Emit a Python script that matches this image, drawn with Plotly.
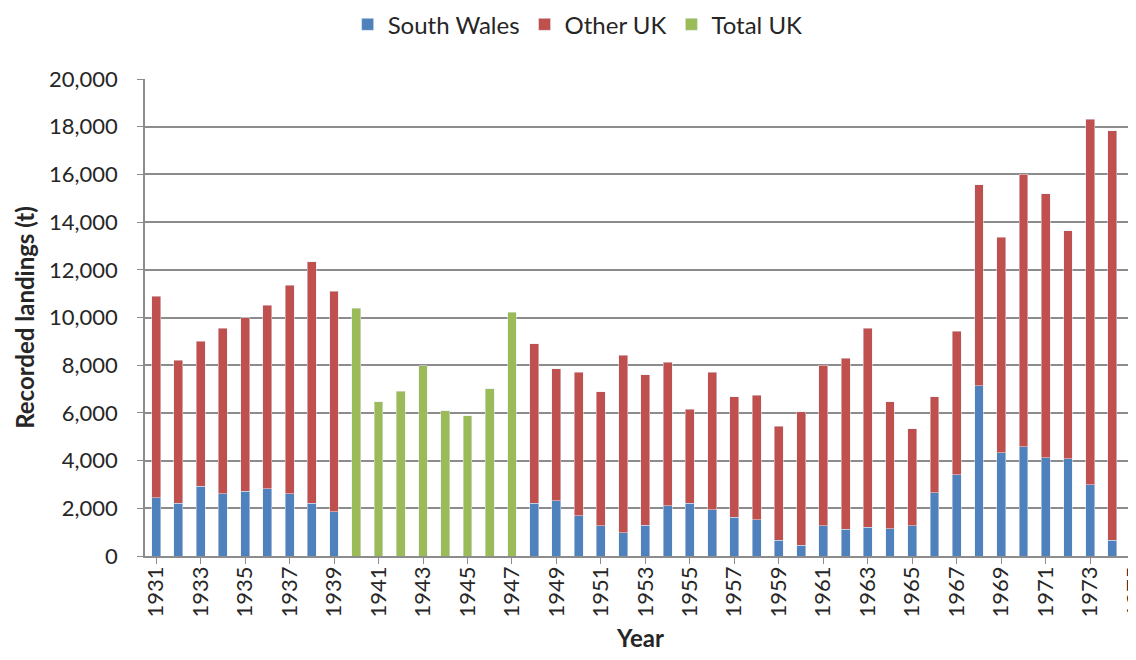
import plotly.graph_objs as go

years = [str(y) for y in range(1931, 1976)]

# South Wales landings (t), None during war years
south_wales = [2450, 2220, 2920, 2600, 2710, 2810, 2600, 2220, 1860,
               None, None, None, None, None, None, None, None,
               2210, 2320, 1680, 1260, 980, 1300, 2110, 2210, 1940, 1620,
               1520, 660, 450, 1260, 1130, 1200, 1140, 1260, 2660, 3400,
               7130, 4320, 4580, 4120, 4070, 2980, 670, 220]

other_uk = [8450, 5980, 6080, 6950, 7270, 7700, 8760, 10110, 9250,
            None, None, None, None, None, None, None, None,
            6680, 5530, 6020, 5630, 7430, 6300, 6020, 3940, 5760, 5060,
            5220, 4790, 5590, 6740, 7160, 8340, 5330, 4080, 4020, 6020,
            8430, 9040, 11420, 11060, 9560, 15330, 17150, 16580]

total_uk = [None] * 9 + [10380, 6470, 6900, 7980, 6090, 5880, 7010, 10230] + [None] * 28

font_family = "Lato, 'Open Sans', sans-serif"
grid_col = "#8c8c8c"

data = [
    go.Bar(x=years, y=south_wales, name="South Wales", marker=dict(color="#4F81BD")),
    go.Bar(x=years, y=other_uk, name="Other UK", marker=dict(color="#C0504D")),
    go.Bar(x=years, y=total_uk, name="Total UK", marker=dict(color="#9BBB59")),
]

# page body has an 8px margin; size the figure so no scrollbars appear
layout = go.Layout(
    width=1128,
    height=644,
    barmode="stack",
    bargap=0.6,
    plot_bgcolor="white",
    paper_bgcolor="white",
    margin=dict(l=137, r=0, t=71, b=96, autoexpand=False),
    font=dict(family=font_family, size=22, color="#262626"),
    legend=dict(
        orientation="h",
        traceorder="normal",
        xref="container", yref="container",
        x=0.505, xanchor="center",
        y=0.974, yanchor="middle",
        font=dict(size=24),
        itemwidth=30,
    ),
    xaxis=dict(
        type="category",
        range=[-0.5, 44.06],
        automargin=False,
        tickmode="array",
        tickvals=years[::2],
        ticktext=years[::2],
        tickangle=-90,
        ticks="",
        showline=True,
        linecolor=grid_col,
        linewidth=1.5,
        minor=dict(ticks="outside", ticklen=6, tickcolor=grid_col, showgrid=False),
        tickson="boundaries",
        title=dict(text="<b>Year</b>", font=dict(size=24), standoff=25),
    ),
    yaxis=dict(
        range=[0, 20000],
        dtick=2000,
        tickformat=",",
        automargin=False,
        showgrid=True,
        gridcolor=grid_col,
        gridwidth=1.5,
        showline=True,
        linecolor=grid_col,
        linewidth=1.5,
        ticks="outside",
        ticklen=6,
        tickcolor=grid_col,
        ticklabelstandoff=15,
        zeroline=False,
        title=dict(text="<b>Recorded landings (t)</b>", font=dict(size=24), standoff=8),
    ),
)

fig = go.Figure(data=data, layout=layout)
fig.write_html("out.html")
